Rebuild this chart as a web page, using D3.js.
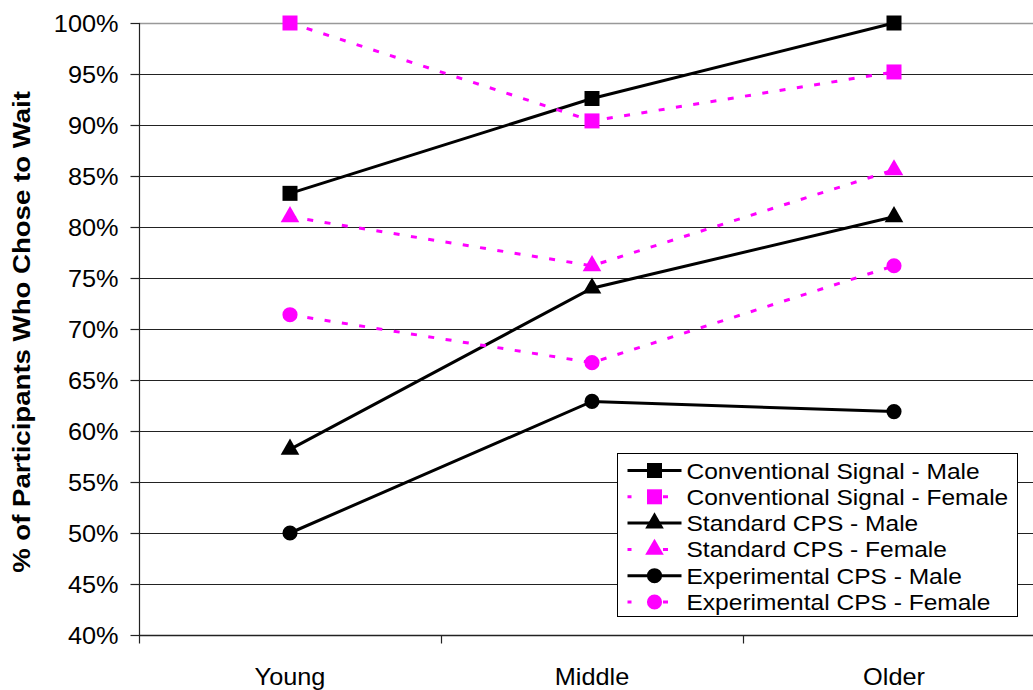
<!DOCTYPE html>
<html>
<head>
<meta charset="utf-8">
<script src="https://cdn.jsdelivr.net/npm/d3@7"></script>
<style>
  body { margin: 0; background: #fff; }
  svg { display: block; }
</style>
</head>
<body>
<div id="chart"></div>
<script>
// age groups on the x axis
const groups = ["Young", "Middle", "Older"];

// % who chose to wait, one array per series
const convMale = [83.3, 92.6, 100];
const convFemale = [100, 90.4, 95.2];
const stdMale = [58.2, 74.0, 81.0];
const stdFemale = [81.0, 76.2, 85.6];
const expMale = [50.0, 62.9, 61.9];
const expFemale = [71.4, 66.7, 76.2];

const yTicks = [40, 45, 50, 55, 60, 65, 70, 75, 80, 85, 90, 95, 100];

const series = [
    { name: "Conventional Signal - Male", values: convMale, color: "#000", dashed: false, symbol: d3.symbolSquare },
    { name: "Conventional Signal - Female", values: convFemale, color: "#ff00ff", dashed: true, symbol: d3.symbolSquare },
    { name: "Standard CPS - Male", values: stdMale, color: "#000", dashed: false, symbol: d3.symbolTriangle },
    { name: "Standard CPS - Female", values: stdFemale, color: "#ff00ff", dashed: true, symbol: d3.symbolTriangle },
    { name: "Experimental CPS - Male", values: expMale, color: "#000", dashed: false, symbol: d3.symbolCircle },
    { name: "Experimental CPS - Female", values: expFemale, color: "#ff00ff", dashed: true, symbol: d3.symbolCircle },
];

const width = 1033, height = 690;
const margin = { top: 23, right: -12, bottom: 55, left: 139 };
const dash = "6,11.5";
const stretch = 1.1; // text in the original looks a bit wide

const svg = d3.select("#chart").append("svg")
    .attr("width", width)
    .attr("height", height)
    .attr("font-family", "Liberation Sans, Arial, sans-serif");

const x = d3.scaleBand()
    .domain(groups)
    .range([margin.left, width - margin.right]);

const y = d3.scaleLinear()
    .domain([40, 100])
    .range([height - margin.bottom, margin.top]);

// marker sizes (area) per symbol type
function symbolSize(s) {
    if (s === d3.symbolSquare) return 225;
    if (s === d3.symbolTriangle) return 150;
    return 180;
}

// gridlines
svg.append("g")
    .selectAll("line")
    .data(yTicks.filter(t => t > 40))
    .join("line")
    .attr("x1", margin.left)
    .attr("x2", width)
    .attr("y1", d => Math.round(y(d)) + 0.5)
    .attr("y2", d => Math.round(y(d)) + 0.5)
    .attr("stroke", d => d === 100 ? "#999" : "#222")
    .attr("stroke-width", d => d === 100 ? 1.5 : 1.2);

// y axis
const yAxis = svg.append("g")
    .attr("transform", `translate(${margin.left + 0.5},0)`)
    .call(d3.axisLeft(y).tickValues(yTicks).tickFormat(d => d + "%").tickSize(9).tickPadding(12));
yAxis.select(".domain").attr("stroke", "#222").attr("stroke-width", 1.2).attr("d", `M0,${y(100)}V${y(40)}`);
yAxis.selectAll(".tick line").attr("stroke", "#222").attr("stroke-width", 1.2);
yAxis.selectAll(".tick text")
    .attr("font-size", 23)
    .attr("fill", "#000")
    .attr("dy", "0.36em")
    .attr("transform", function () {
        const tx = +d3.select(this).attr("x");
        return `translate(${tx},0) scale(${stretch},1) translate(${-tx},0)`;
    });

// x axis, ticks at the band boundaries
const xAxis = svg.append("g")
    .attr("transform", `translate(0,${Math.round(y(40)) + 0.5})`);
xAxis.append("line")
    .attr("x1", margin.left).attr("x2", width)
    .attr("stroke", "#222").attr("stroke-width", 1.5);
xAxis.selectAll(".xtick")
    .data(groups)
    .join("line")
    .attr("class", "xtick")
    .attr("x1", d => Math.round(x(d)) + 0.5)
    .attr("x2", d => Math.round(x(d)) + 0.5)
    .attr("y1", 0).attr("y2", 8)
    .attr("stroke", "#222").attr("stroke-width", 1.2);
xAxis.selectAll(".xlabel")
    .data(groups)
    .join("text")
    .attr("class", "xlabel")
    .attr("text-anchor", "middle")
    .attr("font-size", 23)
    .attr("transform", d => `translate(${x(d) + x.bandwidth() / 2},49) scale(${stretch},1)`)
    .text(d => d);

// y axis title
svg.append("text")
    .attr("transform", `translate(30,${(y(40) + y(100)) / 2 + 3}) rotate(-90) scale(1.2,1)`)
    .attr("text-anchor", "middle")
    .attr("font-size", 23)
    .attr("font-weight", "bold")
    .text("% of Participants Who Chose to Wait");

// lines
const line = d3.line()
    .x((d, i) => x(groups[i]) + x.bandwidth() / 2)
    .y(d => y(d));

const seriesG = svg.append("g")
    .selectAll("g")
    .data(series)
    .join("g");

seriesG.append("path")
    .attr("d", d => line(d.values))
    .attr("fill", "none")
    .attr("stroke", d => d.color)
    .attr("stroke-width", 3)
    .attr("stroke-dasharray", d => d.dashed ? dash : null);

seriesG.selectAll(".marker")
    .data(d => d.values.map((v, i) => ({ v, i, s: d })))
    .join("path")
    .attr("class", "marker")
    .attr("transform", d => `translate(${x(groups[d.i]) + x.bandwidth() / 2},${y(d.v)})`)
    .attr("d", d => d3.symbol(d.s.symbol, symbolSize(d.s.symbol))())
    .attr("fill", d => d.s.color);

// legend
const legend = svg.append("g")
    .attr("transform", "translate(617.5,453.5)");
legend.append("rect")
    .attr("width", 400)
    .attr("height", 163)
    .attr("fill", "#fff")
    .attr("stroke", "#000")
    .attr("stroke-width", 1);

const item = legend.selectAll(".item")
    .data(series)
    .join("g")
    .attr("class", "item")
    .attr("transform", (d, i) => `translate(0,${17 + i * 26.3})`);

item.append("line")
    .attr("x1", 10).attr("x2", 64)
    .attr("stroke", d => d.color)
    .attr("stroke-width", 3)
    .attr("stroke-dasharray", d => d.dashed ? "4,31.5,5,20" : null);

item.append("path")
    .attr("transform", "translate(37,0)")
    .attr("d", d => d3.symbol(d.symbol, symbolSize(d.symbol))())
    .attr("fill", d => d.color);

item.append("text")
    .attr("transform", `translate(69,8) scale(${stretch},1)`)
    .attr("font-size", 22.3)
    .text(d => d.name);
</script>
</body>
</html>
